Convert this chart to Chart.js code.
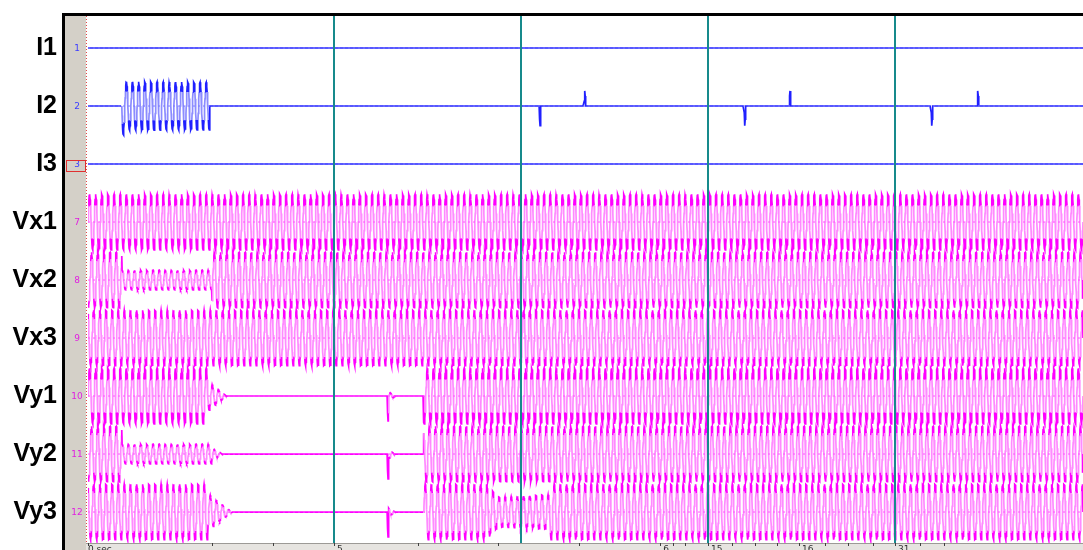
<!DOCTYPE html>
<html>
<head>
<meta charset="utf-8">
<script src="https://cdn.jsdelivr.net/npm/chart.js@4.4.1/dist/chart.umd.min.js"></script>
<style>
  html, body { margin: 0; padding: 0; background: #fff; }
  #wrap { width: 1083px; height: 550px; position: relative; }
</style>
</head>
<body>
<div id="wrap"><canvas id="rec" width="1083" height="550"></canvas></div>
<script>
// Recording window (ms) and carrier frequency
const recordStart = 0;
const recordEnd = 3240;
const mainsHz = 50;

const channelNames   = ['I1', 'I2', 'I3', 'Vx1', 'Vx2', 'Vx3', 'Vy1', 'Vy2', 'Vy3'];
const channelNumbers = ['1', '2', '3', '7', '8', '9', '10', '11', '12'];
const channelKinds   = ['I', 'I', 'I', 'V', 'V', 'V', 'V', 'V', 'V'];
const channelPhase   = [0, 0, 0, 0, -120, 120, 0, -120, 120];

// Amplitude envelopes: [from ms, to ms, amplitude at start, amplitude at end]
// (amplitude in channel-band units, 1 band = spacing between two channels)
const envI1  = [];
const envI2  = [[111, 125, 0.53, 0.42], [125, 397, 0.42, 0.41]];
const envI3  = [];
const envVx1 = [[0, 3240, 0.48, 0.48]];
const envVx2 = [[0, 111, 0.48, 0.48], [111, 404, 0.17, 0.17], [404, 3240, 0.48, 0.48]];
const envVx3 = [[0, 3240, 0.48, 0.48]];
const envVy1 = [[0, 391, 0.48, 0.48], [391, 452, 0.26, 0], [979, 1000, 0.08, 0], [1094, 3240, 0.48, 0.48]];
const envVy2 = [[0, 111, 0.48, 0.48], [111, 404, 0.17, 0.17], [404, 440, 0.1, 0], [979, 1000, 0.08, 0], [1094, 3240, 0.48, 0.48]];
const envVy3 = [[0, 391, 0.48, 0.48], [391, 470, 0.32, 0], [979, 1000, 0.08, 0], [1094, 1299, 0.48, 0.48],
                [1299, 1335, 0.48, 0.26], [1335, 1505, 0.26, 0.3], [1505, 3240, 0.48, 0.48]];

// Short impulses: [time ms, peak] (negative = downward)
const spikesI1 = [];
const spikesI2 = [[1472, -0.34], [1618, 0.26], [2139, -0.34], [2286, 0.26], [2748, -0.34], [2898, 0.26]];
const spikesI3 = [];
const spikesVx = [];
const spikesVy = [[977, -0.43]];

// Time cursors and axis markers (ms)
const cursorTimes = [801, 1410, 2019, 2628];
const axisTicks = [0, 404, 602, 801, 1075, 1335, 1599, 1863, 1905, 1944, 2019, 2097, 2172, 2244, 2315, 2400, 2475, 2556, 2628, 2709, 2787];
const markerTimes = [0, 801, 1863, 2019, 2315, 2628];
const markerTexts = ['0 sec', '5', '6', '15', '16', '31'];

const envelopes = [envI1, envI2, envI3, envVx1, envVx2, envVx3, envVy1, envVy2, envVy3];
const spikeSets = [spikesI1, spikesI2, spikesI3, spikesVx, spikesVx, spikesVx, spikesVy, spikesVy, spikesVy];

const sampleStep = 1;       // ms
const spikeHalfWidth = 3;   // ms
const crestLevel = 0.55;    // part of the swing drawn in the strong colour
const nChannels = channelNames.length;
const baseOf = i => nChannels - 0.5 - i;

// Builds one trace plus a per-sample flag telling whether the sample sits near a crest
function traceFor(i) {
  const env = envelopes[i], spikes = spikeSets[i];
  const ph = channelPhase[i] * Math.PI / 180;
  const pts = [], crest = [];
  for (let t = recordStart; t <= recordEnd; t += sampleStep) {
    let v = 0, active = false;
    const s = Math.sin(2 * Math.PI * mainsHz * t / 1000 + ph);
    for (const [a, b, a0, a1] of env) {
      if (t >= a && t < b) {
        const f = (t - a) / (b - a);
        const amp = a0 + (a1 - a0) * f;
        v += amp * s;
        if (amp > 0.02) active = true;
      }
    }
    for (const [ts, pk] of spikes) {
      const d = Math.abs(t - ts);
      if (d < spikeHalfWidth) v += pk * (1 - d / spikeHalfWidth);
    }
    pts.push({ x: t, y: baseOf(i) + v });
    crest.push(!active || Math.abs(s) > crestLevel);
  }
  return { pts, crest };
}

const darkOf  = i => channelKinds[i] === 'I' ? '#2020ff' : '#ff00ff';
const lightOf = i => channelKinds[i] === 'I' ? '#8c8cff' : '#ff8aff';
const zeroOf  = i => channelKinds[i] === 'I' ? '#7a7aff' : '#ff55ff';

const datasets = [];
for (let i = 0; i < nChannels; i++) {
  const tr = traceFor(i);
  const dark = darkOf(i), light = lightOf(i);
  datasets.push({
    label: channelNames[i] + ' zero',
    data: [{ x: recordStart, y: baseOf(i) }, { x: recordEnd, y: baseOf(i) }],
    borderColor: zeroOf(i),
    borderWidth: 1,
    borderDash: [2, 3],
    pointRadius: 0,
    fill: false
  });
  datasets.push({
    label: channelNames[i],
    data: tr.pts,
    borderColor: dark,
    borderWidth: 1.7,
    pointRadius: 0,
    tension: 0,
    fill: false,
    segment: {
      borderColor: c => (tr.crest[c.p0DataIndex] && tr.crest[c.p1DataIndex]) ? dark : light
    }
  });
}

const framePlugin = {
  id: 'frame',
  beforeDraw(chart) {
    const ctx = chart.ctx, W = chart.width, H = chart.height;
    const area = chart.chartArea;
    ctx.save();
    ctx.fillStyle = '#ffffff';
    ctx.fillRect(0, 0, W, H);
    // channel number strip
    ctx.fillStyle = '#d4d0c8';
    ctx.fillRect(65, 16, area.left - 2 - 65, H - 16);
    // time axis band
    ctx.fillStyle = '#e6e4e0';
    ctx.fillRect(area.left - 2, area.bottom, W - area.left + 2, H - area.bottom);
    ctx.fillStyle = '#9c9a96';
    ctx.fillRect(area.left - 2, area.bottom, W - area.left + 2, 1);
    // black frame
    ctx.fillStyle = '#000000';
    ctx.fillRect(62, 13, 3, H - 13);
    ctx.fillRect(62, 13, W - 62, 3);
    ctx.restore();
  },
  afterDatasetsDraw(chart) {
    const ctx = chart.ctx, area = chart.chartArea;
    const xs = chart.scales.x, ys = chart.scales.y;
    ctx.save();
    // cursors
    ctx.strokeStyle = '#178a8c';
    ctx.lineWidth = 2;
    for (const t of cursorTimes) {
      const px = Math.round(xs.getPixelForValue(t));
      ctx.beginPath();
      ctx.moveTo(px, area.top);
      ctx.lineTo(px, area.bottom);
      ctx.stroke();
    }
    // start marker (dotted)
    ctx.strokeStyle = '#e04848';
    ctx.lineWidth = 1;
    ctx.setLineDash([1, 2]);
    ctx.beginPath();
    ctx.moveTo(area.left - 1.5, area.top);
    ctx.lineTo(area.left - 1.5, area.bottom);
    ctx.stroke();
    ctx.setLineDash([]);
    // axis ticks
    ctx.strokeStyle = '#404040';
    for (const t of axisTicks) {
      const px = Math.round(xs.getPixelForValue(t)) + 0.5;
      ctx.beginPath();
      ctx.moveTo(px, area.bottom);
      ctx.lineTo(px, area.bottom + 3);
      ctx.stroke();
    }
    ctx.fillStyle = '#303030';
    ctx.font = '9px "DejaVu Sans"';
    ctx.textBaseline = 'top';
    ctx.textAlign = 'left';
    markerTimes.forEach((t, k) => {
      const px = xs.getPixelForValue(t);
      ctx.fillText(markerTexts[k], px + (k === 0 ? 0 : 3), area.bottom + 2);
    });
    // channel names and numbers
    for (let i = 0; i < nChannels; i++) {
      const py = ys.getPixelForValue(baseOf(i));
      ctx.fillStyle = '#000000';
      ctx.font = 'bold 25px "Liberation Sans"';
      ctx.textAlign = 'right';
      ctx.textBaseline = 'middle';
      ctx.fillText(channelNames[i], 57, py);
      ctx.fillStyle = channelKinds[i] === 'I' ? '#3c3cff' : '#e020e0';
      ctx.font = '9px "DejaVu Sans"';
      ctx.textAlign = 'center';
      ctx.fillText(channelNumbers[i], 77, py + 1);
    }
    // selected channel box
    const p3 = ys.getPixelForValue(baseOf(2));
    ctx.strokeStyle = '#e03030';
    ctx.lineWidth = 1;
    ctx.strokeRect(66.5, Math.round(p3) - 3.5, 19, 11);
    ctx.restore();
  }
};

// 58 px per channel band, first trace 32 px below the frame top
new Chart(document.getElementById('rec'), {
  type: 'line',
  data: { datasets },
  options: {
    responsive: false,
    devicePixelRatio: 1,
    animation: false,
    parsing: false,
    normalized: true,
    events: [],
    layout: { padding: { left: 88, right: 0, top: 16, bottom: 7 } },
    scales: {
      x: { type: 'linear', min: recordStart, max: recordEnd, display: false },
      y: { type: 'linear', min: -0.034, max: 9.052, display: false }
    },
    plugins: { legend: { display: false }, tooltip: { enabled: false } }
  },
  plugins: [framePlugin]
});
</script>
</body>
</html>
